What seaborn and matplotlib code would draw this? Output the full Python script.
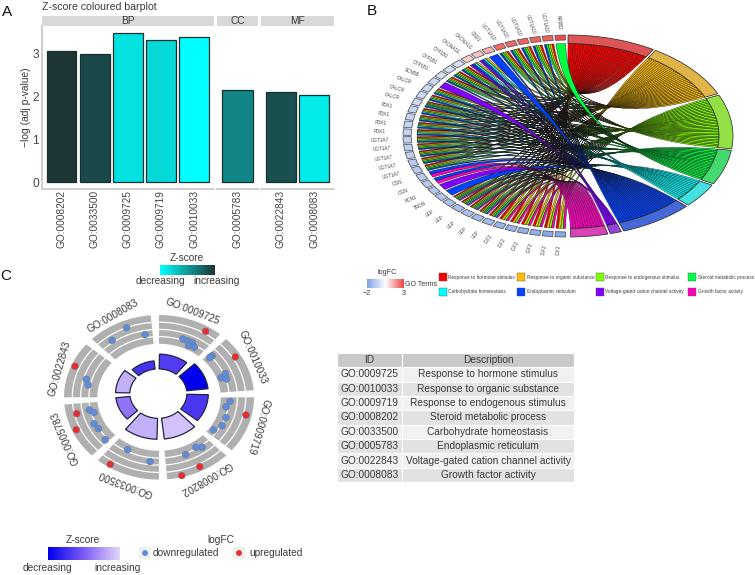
import numpy as np
import pandas as pd
import matplotlib
matplotlib.use('Agg')
import matplotlib.pyplot as plt
import seaborn as sns
from matplotlib.colors import LinearSegmentedColormap, TwoSlopeNorm
from matplotlib.patches import PathPatch, Polygon, Rectangle
from matplotlib.path import Path

# panel A
bar_ids = ['GO:0008202', 'GO:0033500', 'GO:0009725', 'GO:0009719', 'GO:0010033',
           'GO:0005783', 'GO:0022843', 'GO:0008083']
bar_groups = ['BP', 'BP', 'BP', 'BP', 'BP', 'CC', 'MF', 'MF']
bar_values = [3.06, 3.00, 3.49, 3.32, 3.40, 2.16, 2.10, 2.03]
bar_zscore = [1.0, 0.9, 0.15, 0.2, 0.0, 0.6, 0.87, 0.1]

# panel B
term_names = ['Response to hormone stimulus', 'Response to organic substance',
              'Response to endogenous stimulus', 'Steroid metabolic process',
              'Carbohydrate homeostasis', 'Endoplasmic reticulum',
              'Voltage-gated cation channel activity', 'Growth factor activity']
term_colors = ['#FF0000', '#FFBF00', '#80FF00', '#00FF40', '#00FFFF', '#0040FF', '#8000FF', '#FF00BF']
term_ring = ['#DD5555', '#E0B448', '#92E044', '#44D86E', '#44E0E0', '#4468D8', '#9444D8', '#D844B4']
genes = ['NR0B2', 'UGT1A10', 'UGT1A10', 'UGT1A10', 'UGT1A10', 'UGT1A10', 'GSD1', 'CACNA1G', 'CACNA1E',
         'CYP1B1', 'CYP1B1', 'CYP1B1', 'SCN5B', 'CALCR', 'CALCR', 'CALCR', 'PDK1', 'PDK1', 'PDK1', 'PDK1',
         'UGT1A7', 'UGT1A7', 'UGT1A7', 'UGT1A7', 'UGT1A7', 'OGN', 'OGN', 'HCN1', 'TRDN',
         'LEP', 'LEP', 'LEP', 'LEP', 'LEP', 'IGF2', 'IGF2', 'IGF2', 'IGF2', 'IGF2', 'IGF2']
gene_logfc = [2.9, 2.5, 2.5, 2.5, 2.4, 2.4, 1.3, 1.0, 0.8,
              -0.7, -0.7, -0.7, -0.8, -0.8, -0.8, -0.8, -0.9, -0.9, -0.9, -0.9,
              -1.0, -1.0, -1.0, -1.1, -1.1, -1.1, -1.1, -1.2, -1.2,
              -1.3, -1.3, -1.3, -1.4, -1.4, -1.6, -1.6, -1.7, -1.7, -1.8, -1.8]
ugt_terms = [0, 1, 2, 3, 5]
calcr_terms = [0, 1, 2, 3, 4, 5]
pdk_terms = [0, 1, 2, 4, 5]
lep_terms = [0, 1, 2, 3, 4, 7]
igf_terms = [0, 1, 2, 7]
gene_terms = [[3]] + [ugt_terms] * 5 + [[5], [1, 4, 5, 6], [1, 4, 5, 6]] + [ugt_terms] * 3 + [[6]] \
    + [[0, 1, 2, 4, 5]] * 2 + [calcr_terms] + [pdk_terms] * 4 + [ugt_terms] * 5 + [[5, 7]] * 2 + [[6], [5]] \
    + [lep_terms] * 5 + [igf_terms] * 6

# panel C
circle_ids = ['GO:0009725', 'GO:0010033', 'GO:0009719', 'GO:0008202',
              'GO:0033500', 'GO:0005783', 'GO:0022843', 'GO:0008083']
circle_start = [90, 45, 0, -45, -90, -135, 180, 135]
circle_height = [0.48, 0.526, 0.526, 0.555, 0.555, 0.45, 0.45, 0.40]
circle_zscore = [0.33, 0.0, 0.3, 0.92, 0.85, 0.6, 0.85, 0.28]
dot_angle = [58.5, 70.4, 66.2, 62.1, 63.6, 58.5, 31.4, 42, 42.1, 22.4, 20.1, 17.4,
             -13.2, -3.7, -9.4, -19.3, -27.4, -34.6, -63, -75.9, -53.3, -57.3, -68,
             -122.2, -117.4, -96.9, -167.1, -155.7, -168.1, -164.8, -154.9, -149.2, -137.7,
             156.9, 164, 168.6, 111.9, 125.5, 100.9]
dot_radius = [.94, .752, .748, .751, .701, .712, .941, .751, .719, .755, .695, .746,
              .941, .749, .715, .747, .747, .699, .945, .981, .757, .721, .751,
              .962, .716, .787, .889, .955, .749, .709, .755, .744, .764,
              .961, .796, .762, .912, .85, .775]
dot_dir = ['up', 'down', 'down', 'down', 'down', 'down', 'up', 'down', 'down', 'down', 'down', 'down',
           'up', 'down', 'down', 'down', 'down', 'down', 'up', 'up', 'down', 'down', 'down',
           'up', 'down', 'down', 'up', 'up', 'down', 'down', 'down', 'down', 'down',
           'up', 'down', 'down', 'down', 'down', 'down']

table_rows = [['GO:0009725', 'Response to hormone stimulus'],
              ['GO:0010033', 'Response to organic substance'],
              ['GO:0009719', 'Response to endogenous stimulus'],
              ['GO:0008202', 'Steroid metabolic process'],
              ['GO:0033500', 'Carbohydrate homeostasis'],
              ['GO:0005783', 'Endoplasmic reticulum'],
              ['GO:0022843', 'Voltage-gated cation channel activity'],
              ['GO:0008083', 'Growth factor activity']]

sns.set_theme(style='white')
plt.rcParams['font.family'] = ['Liberation Sans', 'DejaVu Sans']
W, H = 755, 575
TXT = '#3a3a3a'
fig = plt.figure(figsize=(W / 100, H / 100), dpi=100)


def px_axes(x0, y0, x1, y1):
    ax = fig.add_axes([x0 / W, 1 - y1 / H, (x1 - x0) / W, (y1 - y0) / H])
    ax.patch.set_alpha(0)
    return ax


def ring(r0, r1, t0, t1, cx=0.0, cy=0.0):
    t = np.radians(np.linspace(t0, t1, 40))
    outer = np.c_[cx + r1 * np.cos(t), cy + r1 * np.sin(t)]
    inner = np.c_[cx + r0 * np.cos(t[::-1]), cy + r0 * np.sin(t[::-1])]
    return np.vstack([outer, inner])


# ---- A: faceted barplot
cyan_cmap = LinearSegmentedColormap.from_list('cy', ['#00FFFF', '#1E3535'])
bars = pd.DataFrame({'id': bar_ids, 'group': bar_groups, 'value': bar_values, 'z': bar_zscore})
facets = [('BP', 41.7, 214), ('CC', 217.3, 258), ('MF', 261, 334)]
for i, (grp, x0, x1) in enumerate(facets):
    sub = bars[bars.group == grp]
    ax = px_axes(x0, 26, x1, 189)
    pal = {k: cyan_cmap(z) for k, z in zip(sub.id, sub.z)}
    sns.barplot(data=sub, x='id', y='value', hue='id', palette=pal, legend=False, ax=ax,
                width=0.9, saturation=1, edgecolor='#16302f', linewidth=0.9)
    ax.set_xlim(-0.6, len(sub) - 0.4)
    ax.set_ylim(-0.157, 3.65)
    ax.set_xlabel('')
    ax.set_ylabel('')
    ax.tick_params(axis='x', labelrotation=90, labelsize=7.3, labelcolor='#444444', length=0, pad=0.5)
    sns.despine(ax=ax, top=True, right=True, left=i > 0)
    ax.spines['bottom'].set_color('#c8c8c8')
    ax.spines['left'].set_color('#c8c8c8')
    if i == 0:
        ax.set_yticks([0, 1, 2, 3])
        ax.tick_params(axis='y', labelsize=8.6, labelcolor='#444444', length=0, pad=2)
        ax.set_ylabel('\u2212log (adj p-value)', fontsize=7.4, color=TXT, labelpad=1)
    else:
        ax.set_yticks([])
    strip = px_axes(x0, 16, x1, 26)
    strip.set_facecolor('#d9d9d9')
    strip.patch.set_alpha(1)
    strip.set_xticks([])
    strip.set_yticks([])
    for s in strip.spines.values():
        s.set_visible(False)
    strip.text(0.5, 0.45, grp, ha='center', va='center', fontsize=7.3, color=TXT, transform=strip.transAxes)

# ---- B: chord diagram
bx = px_axes(365, 0, 740, 250)
bx.set_xlim((365 - 568) / 165, (740 - 568) / 165)
bx.set_ylim((136 - 250) / 101, 136 / 101)
bx.axis('off')
term_counts = [sum(t in g for g in gene_terms) for t in range(len(term_names))]
unit = (180 - 0.9 * len(term_names)) / sum(term_counts)
term_start = []
angle = 90.0
for c in term_counts:
    term_start.append(angle)
    angle -= c * unit + 0.9
gene_step = 179.0 / len(genes)
term_used = [0] * len(term_names)
ribbons = []
R = 0.915
# term slots are filled from the last gene up, so each term funnels to a crossing point
for i in range(len(genes) - 1, -1, -1):
    terms = gene_terms[i]
    g0 = 90.5 + i * gene_step + gene_step * 0.09
    gw = gene_step * 0.82 / len(terms)
    for k, t in enumerate(terms):
        a0 = g0 + k * gw
        a1 = a0 + gw
        b0 = term_start[t] - term_used[t] * unit
        b1 = b0 - unit
        term_used[t] += 1
        ribbons.append((i, t, a0, a1, b0, b1))


def pol(a, r=R):
    return (r * np.cos(np.radians(a)), r * np.sin(np.radians(a)))


for i, t, a0, a1, b0, b1 in ribbons:
    verts = [pol(a0), pol(a1), (0, 0), pol(b0), pol(b1), (0, 0), pol(a0)]
    codes = [Path.MOVETO, Path.LINETO, Path.CURVE3, Path.CURVE3, Path.LINETO, Path.CURVE3, Path.CURVE3]
    bx.add_patch(PathPatch(Path(verts, codes), facecolor=term_colors[t], edgecolor='#111111', lw=0.3))

logfc_cmap = LinearSegmentedColormap.from_list('lfc', ['#7FA0E8', '#FFFFFF', '#EE4444'])
logfc_norm = TwoSlopeNorm(vmin=-2, vcenter=0, vmax=3)
for i, name in enumerate(genes):
    a0 = 90.5 + i * gene_step + gene_step * 0.09
    a1 = a0 + gene_step * 0.82
    bx.add_patch(Polygon(ring(0.95, 1.0, a0, a1), facecolor=logfc_cmap(logfc_norm(gene_logfc[i])),
                         edgecolor='#444444', lw=0.5))
    mid = np.radians((a0 + a1) / 2)
    lx, ly = 1.14 * np.cos(mid), 1.13 * np.sin(mid)
    rot = np.degrees(np.arctan2(np.sin(mid) * 101, np.cos(mid) * 165)) + 180
    bx.text(lx, ly, name, fontsize=3.3, color='#444444', ha='center', va='center',
            rotation=rot, rotation_mode='anchor')
for t, c in enumerate(term_counts):
    bx.add_patch(Polygon(ring(0.915, 1.0, term_start[t], term_start[t] - c * unit),
                         facecolor=term_ring[t], edgecolor='#222222', lw=0.5))

# ---- C: GO circle
cx = px_axes(40, 285, 285, 510)
cx.set_xlim((40 - 159) / 95, (285 - 159) / 95)
cx.set_ylim((397.3 - 510) / 82.3, (397.3 - 285) / 82.3)
cx.axis('off')
lav_cmap = LinearSegmentedColormap.from_list('lav', ['#0000EE', '#7D5CF5', '#E2D4FB'])
for i, name in enumerate(circle_ids):
    s = circle_start[i]
    cx.add_patch(Polygon(ring(0.65, 1.0, s, s - 40), facecolor='#b0b0b0', edgecolor='none'))
    for r in [0.7375, 0.825, 0.9125]:
        t = np.radians(np.linspace(s, s - 40, 40))
        cx.plot(r * np.cos(t), r * np.sin(t), color='white', lw=0.9)
    cx.add_patch(Polygon(ring(0.30, circle_height[i], s - 1.5, s - 38.5, -0.007, 0.045),
                         facecolor=lav_cmap(circle_zscore[i]), edgecolor='#222244', lw=0.9))
    mid = np.radians(s - 18.5)
    rot = np.degrees(np.arctan2(np.sin(mid) * 82.3, np.cos(mid) * 95)) - 90
    cx.text(1.10 * np.cos(mid), 1.10 * np.sin(mid), name, fontsize=7.2, color=TXT,
            ha='center', va='center', rotation=rot, rotation_mode='anchor')
dots = pd.DataFrame({'angle': dot_angle, 'r': dot_radius, 'dir': dot_dir})
dots['x'] = dots.r * np.cos(np.radians(dots.angle))
dots['y'] = dots.r * np.sin(np.radians(dots.angle))
dot_colors = {'down': '#5B8DDC', 'up': '#E92B32'}
sns.scatterplot(data=dots, x='x', y='y', hue='dir', palette=dot_colors, legend=False, s=24,
                edgecolor='#777777', linewidth=0.35, ax=cx, zorder=5)
cx.set_xlabel('')
cx.set_ylabel('')
cx.set_xlim((40 - 159) / 95, (285 - 159) / 95)
cx.set_ylim((397.3 - 510) / 82.3, (397.3 - 285) / 82.3)

# ---- table
tx = px_axes(337, 353, 574, 482)
tx.axis('off')
tab = tx.table(cellText=[['ID', 'Description']] + table_rows, bbox=[0, 0, 1, 1],
               colWidths=[65 / 237, 172 / 237], cellLoc='center')
tab.auto_set_font_size(False)
for (r, c), cell in tab.get_celld().items():
    cell.set_edgecolor('white')
    cell.set_linewidth(0.8)
    cell.set_text_props(fontsize=7.3, color=TXT)
    cell.PAD = 0.01
    if r == 0:
        cell.set_facecolor('#c9c9c9')
    else:
        cell.set_facecolor('#f1f1f1' if r % 2 else '#e2e2e2')

# ---- overlay: letters, titles, legends
ov = fig.add_axes([0, 0, 1, 1], zorder=10)
ov.patch.set_alpha(0)


def gradient(cmap, x0, y0, x1, y1):
    ov.imshow(np.linspace(0, 1, 120)[None, :], extent=(x0, x1, y1, y0), aspect='auto', cmap=cmap, zorder=2)


gradient(cyan_cmap, 160, 265, 215, 275)
gradient(lav_cmap, 48, 547, 120, 560)
gradient(LinearSegmentedColormap.from_list('lg', ['#7FA0E8', '#FFFFFF', '#EE4444']), 367, 279, 404, 288)
ov.set_xlim(0, W)
ov.set_ylim(H, 0)
ov.axis('off')

for s, x, y in [('A', 7, 12), ('B', 372, 11), ('C', 6, 276)]:
    ov.text(x, y, s, fontsize=11, color='#111111', ha='center', va='center')
ov.text(42, 7, 'Z-score coloured barplot', fontsize=7.6, color=TXT, ha='left', va='center')
small = [('Z-score', 187, 258), ('decreasing', 160.7, 281), ('increasing', 217, 281),
         ('Z-score', 83, 540), ('decreasing', 47, 568), ('increasing', 118, 568), ('logFC', 221, 540)]
for s, x, y in small:
    ov.text(x, y, s, fontsize=7.3, color=TXT, ha='center', va='center')

ov.add_patch(Rectangle((139, 547), 12, 12, facecolor='#f0f0f0', edgecolor='none'))
ov.add_patch(Rectangle((233, 547), 12, 12, facecolor='#f0f0f0', edgecolor='none'))
legend_keys = pd.DataFrame({'x': [145, 239], 'y': [553, 553], 'dir': ['down', 'up']})
sns.scatterplot(data=legend_keys, x='x', y='y', hue='dir', palette=dot_colors, legend=False, s=18,
                edgecolor='none', ax=ov, zorder=5)
ov.set_xlim(0, W)
ov.set_ylim(H, 0)
ov.axis('off')
ov.text(152.7, 553.5, 'downregulated', fontsize=7.3, color=TXT, ha='left', va='center')
ov.text(249, 553.5, 'upregulated', fontsize=7.3, color=TXT, ha='left', va='center')

ov.text(386.7, 273, 'logFC', fontsize=5.2, color=TXT, ha='center', va='center')
ov.text(367, 293.5, '\u22122', fontsize=5.2, color=TXT, ha='center', va='center')
ov.text(404, 293.5, '3', fontsize=5.2, color=TXT, ha='center', va='center')
ov.text(421, 284, 'GO Terms', fontsize=5.0, color=TXT, ha='center', va='center')
swatch_x = [439, 517, 596, 688]
text_x = [448, 527, 605, 698]
for i, name in enumerate(term_names):
    # legend runs in two rows of four
    c = i % 4
    y = 273 if i < 4 else 288
    ov.add_patch(Rectangle((swatch_x[c], y), 8, 8, facecolor=term_colors[i], edgecolor='#555555', lw=0.3))
    ov.text(text_x[c], y + 4, name, fontsize=3.4, color=TXT, ha='left', va='center')

fig.savefig('out.png', dpi=100)
